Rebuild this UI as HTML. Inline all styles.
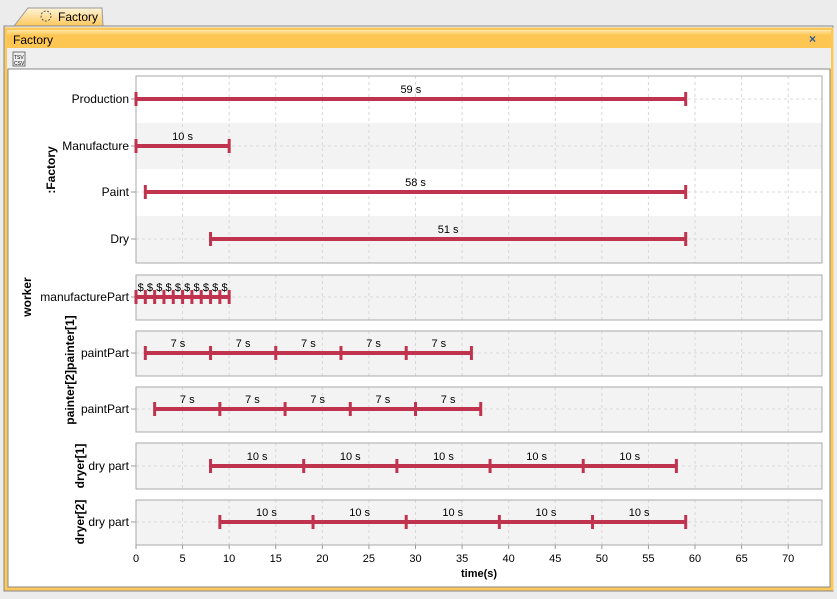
<!DOCTYPE html>
<html><head><style>
body{margin:0;width:837px;height:594px;overflow:hidden;background:#ececec;font-family:"Liberation Sans",sans-serif}
</style></head><body>
<svg width="837" height="594" xmlns="http://www.w3.org/2000/svg" font-family="Liberation Sans, sans-serif">
<defs><linearGradient id="tab" x1="0" y1="0" x2="0" y2="1"><stop offset="0" stop-color="#fff4d8"/><stop offset="1" stop-color="#fcc85a"/></linearGradient>
<linearGradient id="hd" x1="0" y1="0" x2="0" y2="1"><stop offset="0" stop-color="#ffe6a8"/><stop offset="0.3" stop-color="#fdc552"/><stop offset="1" stop-color="#fdc552"/></linearGradient></defs>
<rect width="837" height="594" fill="#ececec"/>
<path d="M14 26 L28 8 L102 8 L103 26 Z" fill="url(#tab)" stroke="#999"/>
<circle cx="46" cy="16" r="5" fill="none" stroke="#555" stroke-dasharray="2 1.5"/>
<text x="58" y="21" font-size="12" fill="#000">Factory</text>
<rect x="4" y="26" width="829" height="565" fill="#f0f0f0" stroke="#888"/>
<rect x="6" y="29" width="826" height="560" fill="none" stroke="#fcc85a" stroke-width="3"/>
<rect x="7" y="30" width="824" height="18" fill="url(#hd)"/>
<text x="13" y="44" font-size="12">Factory</text>
<text x="809" y="43" font-size="12" fill="#2a5a9a" font-weight="bold">×</text>
<rect x="7" y="48" width="824" height="21" fill="#efefef"/>
<rect x="13" y="52" width="12" height="14" fill="#eee" stroke="#555" stroke-width="0.8"/>
<text x="14" y="59" font-size="5">TSV</text><text x="14" y="65" font-size="5">CSV</text>
<rect x="8" y="69" width="822" height="518" fill="#fff" stroke="#888"/>
<g id="plot"></g>
</svg>
<script>
const s=document.querySelector('svg'),ns='http://www.w3.org/2000/svg';
function el(t,a,txt){const e=document.createElementNS(ns,t);for(const k in a)e.setAttribute(k,a[k]);if(txt!=null)e.textContent=txt;s.appendChild(e);return e}
const X=v=>136+v*9.317, R=822, C='#c0334f';
const panels=[[76,263],[275,320],[331,376],[387,432],[443,489],[500,545]];
// backgrounds
el('rect',{x:136,y:76,width:R-136,height:187,fill:'#fff'});
el('rect',{x:136,y:123,width:R-136,height:46,fill:'#f3f3f3'});
el('rect',{x:136,y:216,width:R-136,height:47,fill:'#f3f3f3'});
panels.slice(1).forEach(p=>el('rect',{x:136,y:p[0],width:R-136,height:p[1]-p[0],fill:'#f3f3f3'}));
const rows=[[99,'Production'],[146,'Manufacture'],[192,'Paint'],[239,'Dry'],[297,'manufacturePart'],[353,'paintPart'],[409,'paintPart'],[466,'dry part'],[522,'dry part']];
panels.forEach(p=>{for(let v=5;v<=70;v+=5)el('line',{x1:X(v),x2:X(v),y1:p[0],y2:p[1],stroke:'#d8d8d8','stroke-dasharray':'3 3'});});
rows.forEach(r=>{el('line',{x1:136,x2:R,y1:r[0],y2:r[0],stroke:'#d8d8d8','stroke-dasharray':'3 3'});
 el('line',{x1:131,x2:136,y1:r[0],y2:r[0],stroke:'#999'});
 el('text',{x:129,y:r[0]+4,'font-size':12,'text-anchor':'end'},r[1]);});
panels.forEach(p=>el('rect',{x:136,y:p[0],width:R-136,height:p[1]-p[0],fill:'none',stroke:'#aaa'}));
function bar(y,pts,lbl){el('line',{x1:X(pts[0]),x2:X(pts[pts.length-1]),y1:y,y2:y,stroke:C,'stroke-width':4});
 pts.forEach(v=>el('line',{x1:X(v),x2:X(v),y1:y-7,y2:y+7,stroke:C,'stroke-width':3}));
 for(let i=0;i<pts.length-1;i++)el('text',{x:(X(pts[i])+X(pts[i+1]))/2,y:y-6,'font-size':11,'text-anchor':'middle'},lbl||((pts[i+1]-pts[i])+' s'));}
bar(99,[0,59]);bar(146,[0,10]);bar(192,[1,59]);bar(239,[8,59]);
bar(297,[0,1,2,3,4,5,6,7,8,9,10],'$');
bar(353,[1,8,15,22,29,36]);bar(409,[2,9,16,23,30,37]);
bar(466,[8,18,28,38,48,58]);bar(522,[9,19,29,39,49,59]);
for(let v=0;v<=70;v+=5){el('line',{x1:X(v),x2:X(v),y1:545,y2:549,stroke:'#999'});el('text',{x:X(v),y:562,'font-size':11,'text-anchor':'middle'},v);}
el('text',{x:479,y:577,'font-size':11,'font-weight':'bold','text-anchor':'middle'},'time(s)');
[[55,170,':Factory'],[31,297,'worker'],[74,370,'painter[2]painter[1]'],[84,466,'dryer[1]'],[84,522,'dryer[2]']].forEach(g=>
 el('text',{x:g[0],y:g[1],'font-size':12,'font-weight':'bold','text-anchor':'middle',transform:`rotate(-90 ${g[0]} ${g[1]})`},g[2]));
</script>
</body></html>
